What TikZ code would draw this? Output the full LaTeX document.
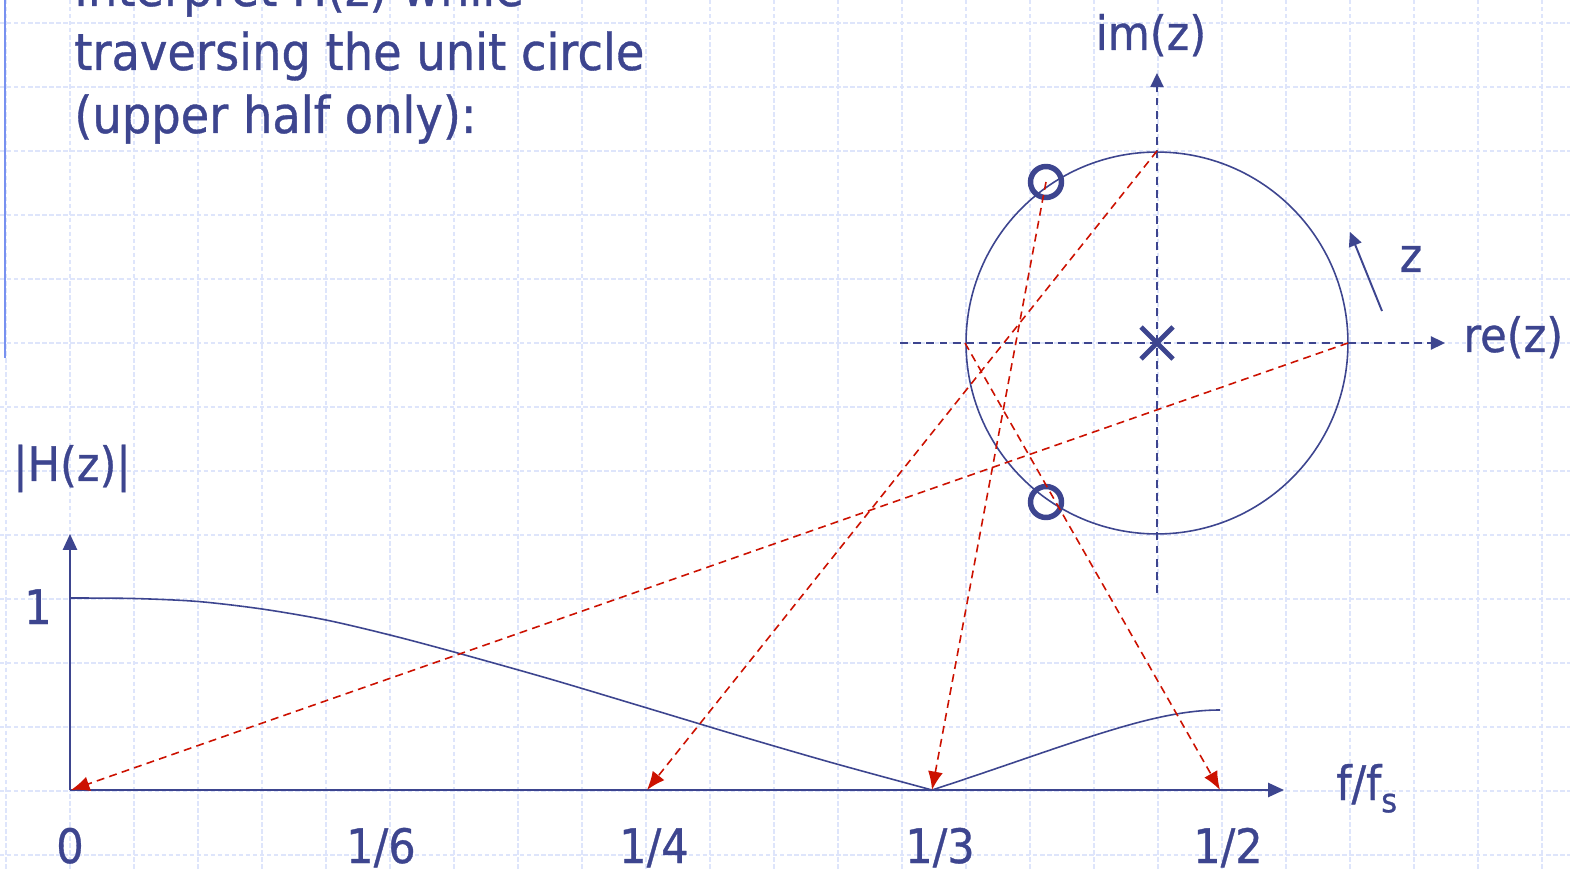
\documentclass[tikz,border=0pt]{standalone}
\usepackage{fontspec}
\setmainfont[FakeStretch=0.91,FakeBold=0.7]{DejaVu Sans}
\usetikzlibrary{arrows.meta}
\definecolor{ink}{RGB}{61,69,143}
\definecolor{redl}{RGB}{204,17,0}
\definecolor{gridc}{RGB}{222,229,251}
\definecolor{barc}{RGB}{120,145,240}
\begin{document}
\begin{tikzpicture}[x=0.02cm,y=-0.02cm,
  lbl/.style={text=ink,font=\fontsize{27}{31}\selectfont,inner sep=0pt},
  ttl/.style={text=ink,font=\fontsize{29}{35}\selectfont,inner sep=0pt,anchor=base west},
  axisarrow/.style={draw=ink,line width=1.1pt,-{Triangle[length=9pt,width=8pt]}},
  daxis/.style={draw=ink,line width=1pt,dash pattern=on 4.5pt off 3pt,-{Triangle[length=8pt,width=7.5pt]}},
  ray/.style={draw=redl,line width=0.9pt,dash pattern=on 4.5pt off 3pt,-{Latex[length=10.5pt,width=8.5pt]}},
  gridl/.style={draw=gridc,line width=0.7pt,dash pattern=on 2.5pt off 1.5pt},
  zero/.style={draw=ink,line width=3.1pt,circle,minimum size=0.62cm,inner sep=0pt},
  curve/.style={draw=ink,line width=0.9pt}]

\useasboundingbox (0,0) rectangle (1570,871);
\fill[white] (0,0) rectangle (1570,871);
\foreach \i in {0,...,24} \draw[gridl] (6+64*\i,0) -- (6+64*\i,871);
\foreach \j in {0,...,13} \draw[gridl] (0,23+64*\j) -- (1570,23+64*\j);

\draw[barc,line width=1.7pt] (5,0) -- (5,358);

% title
\node[ttl] (t1) at (74,6) {Interpret H(z) while};
\node[ttl] (t2) at (74,70) {traversing the unit circle};
\node[ttl] (t3) at (74,133) {(upper half only):};

% z-plane
\coordinate (c) at (1157,343);
\coordinate (reS) at (900,343);
\coordinate (reE) at (1445,343);
\coordinate (imS) at (1157,593);
\coordinate (imE) at (1157,73);
\draw[daxis] (reS) -- (reE);
\draw[daxis] (imS) -- (imE);
\draw[ink,line width=0.9pt] (c) circle[radius=3.82cm];
\draw[ink,line width=2.8pt] ([shift={(-16,-16)}]c) -- ([shift={(16,16)}]c)
                            ([shift={(-16,16)}]c) -- ([shift={(16,-16)}]c);
\node[lbl,anchor=base] (im) at (1151,50) {im(z)};
\node[lbl,anchor=base west] (re) at (1463,352) {re(z)};

\node[zero] (z1) at (1046,182) {};
\node[zero] (z2) at (1046,502) {};

\coordinate (za) at (1382,311);
\coordinate (zb) at (1350,232);
\draw[ink,line width=1.1pt,-{Triangle[length=8pt,width=7.5pt]}] (za) -- (zb);
\node[lbl,anchor=base] (zl) at (1411,272) {z};

% magnitude plot
\coordinate (o) at (70,790);
\coordinate (xe) at (1284,790);
\coordinate (ye) at (70,534);
\draw[axisarrow] (o) -- (xe);
\draw[axisarrow] (o) -- (ye);

\draw[curve] plot[smooth,tension=0.5] coordinates {(70,598) (134,598.5) (198,601.5) (262,609) (326,620) (390,635) (454,652) (550,679) (647,708) (740,736) (833,763) (932,790)};
\draw[curve] (932,790) .. controls (1070,745) and (1150,710) .. (1220,710);

\node[lbl,anchor=base] (h) at (72,481) {|H(z)|};
\node[lbl,anchor=base] (one) at (38,624) {1};
\node[lbl,anchor=base] (l0) at (70,863) {0};
\node[lbl,anchor=base] (l16) at (381,863) {1/6};
\node[lbl,anchor=base] (l14) at (654,863) {1/4};
\node[lbl,anchor=base] (l13) at (940,863) {1/3};
\node[lbl,anchor=base] (l12) at (1228,863) {1/2};
\node[lbl,anchor=base west] (fl) at (1336,800) {f/f\raisebox{-7pt}{\fontsize{19}{20}\selectfont s}};

% rays
\coordinate (p0) at (1348,343);
\coordinate (p14) at (1157,151);
\coordinate (p12) at (965,343);
\coordinate (f0) at (71,790);
\coordinate (f14) at (647,790);
\coordinate (f13) at (932,790);
\coordinate (f12) at (1220,790);
\draw[ray] (p0) -- (f0);
\draw[ray] (p14) -- (f14);
\draw[ray] (z1.center) -- (f13);
\draw[ray] (p12) -- (f12);
\end{tikzpicture}
\end{document}
